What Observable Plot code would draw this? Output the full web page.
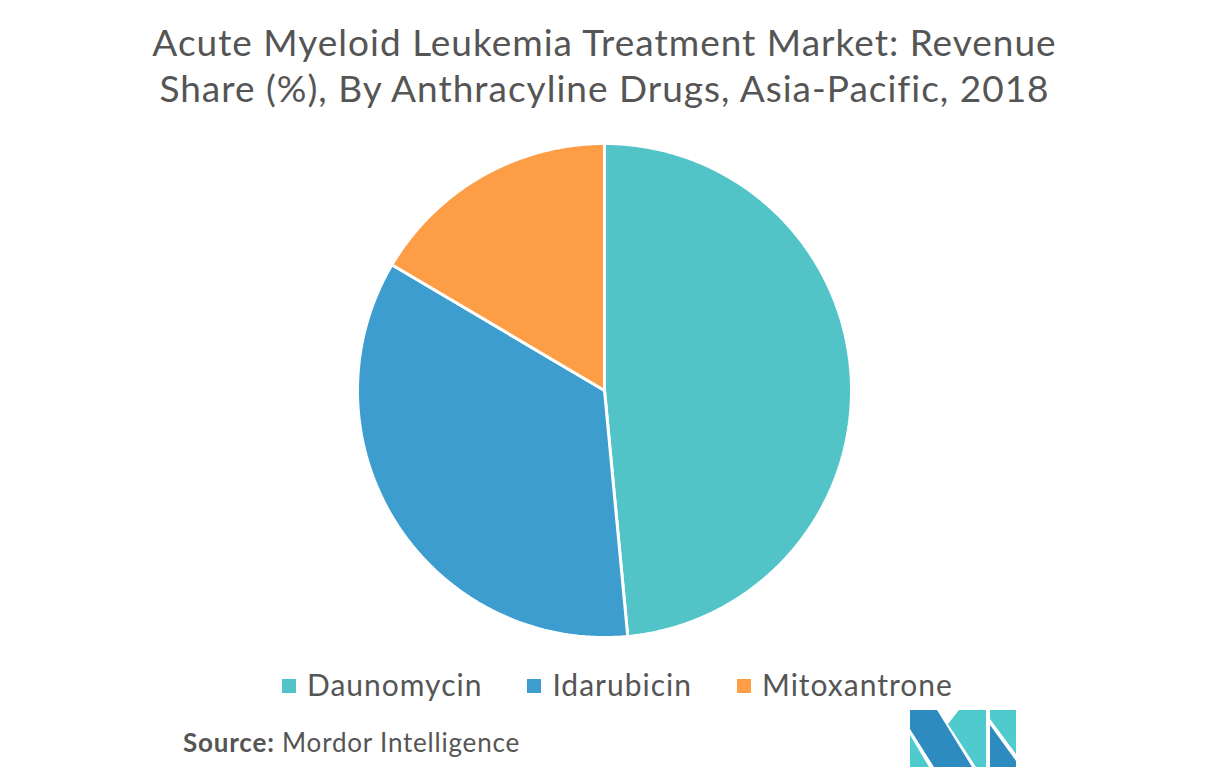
<!DOCTYPE html>
<html>
<head>
<meta charset="utf-8">
<script src="https://cdn.jsdelivr.net/npm/d3@7"></script>
<script src="https://cdn.jsdelivr.net/npm/@observablehq/plot@0.6"></script>
<style>
  html, body { margin: 0; padding: 0; background: #fff; }
  body { width: 1209px; height: 779px; position: relative; overflow: hidden; font-family: Lato, "Open Sans", sans-serif; color: #555; }
  #title { position: absolute; left: 0; top: 19px; width: 1209px; text-align: center; font-size: 37px; line-height: 46px; letter-spacing: 1px; color: #555; }
  #chart { position: absolute; left: 0; top: 130px; }
  #legend { position: absolute; left: 282px; top: 666px; display: flex; font-size: 30px; line-height: 36px; letter-spacing: 1px; color: #555; }
  #legend .item { display: flex; align-items: center; margin-right: 45px; }
  #legend .sw { width: 14px; height: 14px; margin-right: 11px; margin-top: 3px; }
  #source { position: absolute; left: 183px; top: 727px; font-size: 26px; line-height: 31px; letter-spacing: 0.8px; color: #555; }
  #logo { position: absolute; left: 910px; top: 710px; }
</style>
</head>
<body>
<div id="title">Acute Myeloid Leukemia Treatment Market: Revenue<br>Share (%), By Anthracyline Drugs, Asia-Pacific, 2018</div>
<div id="chart"></div>
<div id="legend"></div>
<div id="source"><b>Source:</b> Mordor Intelligence</div>
<svg id="logo" width="106" height="58" viewBox="0 0 106 58">
  <polygon points="0,0 27,0 62,57 24,57 0,19" fill="#2e8bc0"/>
  <polygon points="0,25 0,57 19,57" fill="#4fcbcd"/>
  <polygon points="49,0 76,0 76,57 66,57 38,14" fill="#4fcbcd"/>
  <polygon points="80,0 106,0 106,44 80,9" fill="#4fcbcd"/>
  <polygon points="80,15 106,51 106,57 80,57" fill="#2e8bc0"/>
</svg>
<script>
const categories = ["Daunomycin", "Idarubicin", "Mitoxantrone"];
const shares = [48.5, 35.0, 16.5];
const colors = ["#52c4c7", "#3d9dcf", "#fd9e46"];

const data = categories.map((c, i) => ({category: c, value: shares[i]}));
const arcs = d3.pie().sort(null).value(d => d.value)(data);

// build slice polygons in unit-circle coordinates from the pie angles
const pts = [];
arcs.forEach(a => {
  const name = a.data.category;
  pts.push({category: name, x: 0, y: 0});
  const n = Math.max(2, Math.ceil((a.endAngle - a.startAngle) / 0.01));
  for (let k = 0; k <= n; k++) {
    const t = a.startAngle + (a.endAngle - a.startAngle) * k / n;
    pts.push({category: name, x: Math.sin(t), y: Math.cos(t)});
  }
  pts.push({category: name, x: 0, y: 0});
});

const R = 247;
const W = 1209, H = 520, mt = 13;
const plot = Plot.plot({
  width: W,
  height: H,
  marginLeft: 604 - R,
  marginRight: W - 604 - R,
  marginTop: mt,
  marginBottom: H - mt - 2 * R,
  x: {domain: [-1, 1], axis: null},
  y: {domain: [-1, 1], axis: null},
  color: {domain: categories, range: colors},
  style: {background: "transparent"},
  marks: [
    Plot.line(pts, {x: "x", y: "y", z: "category", fill: "category", stroke: "white", strokeWidth: 3, strokeLinejoin: "miter", curve: "linear"})
  ]
});
document.getElementById("chart").appendChild(plot);

const legend = document.getElementById("legend");
categories.forEach((c, i) => {
  const item = document.createElement("div");
  item.className = "item";
  item.innerHTML = `<span class="sw" style="background:${colors[i]}"></span><span>${c}</span>`;
  legend.appendChild(item);
});
</script>
</body>
</html>
